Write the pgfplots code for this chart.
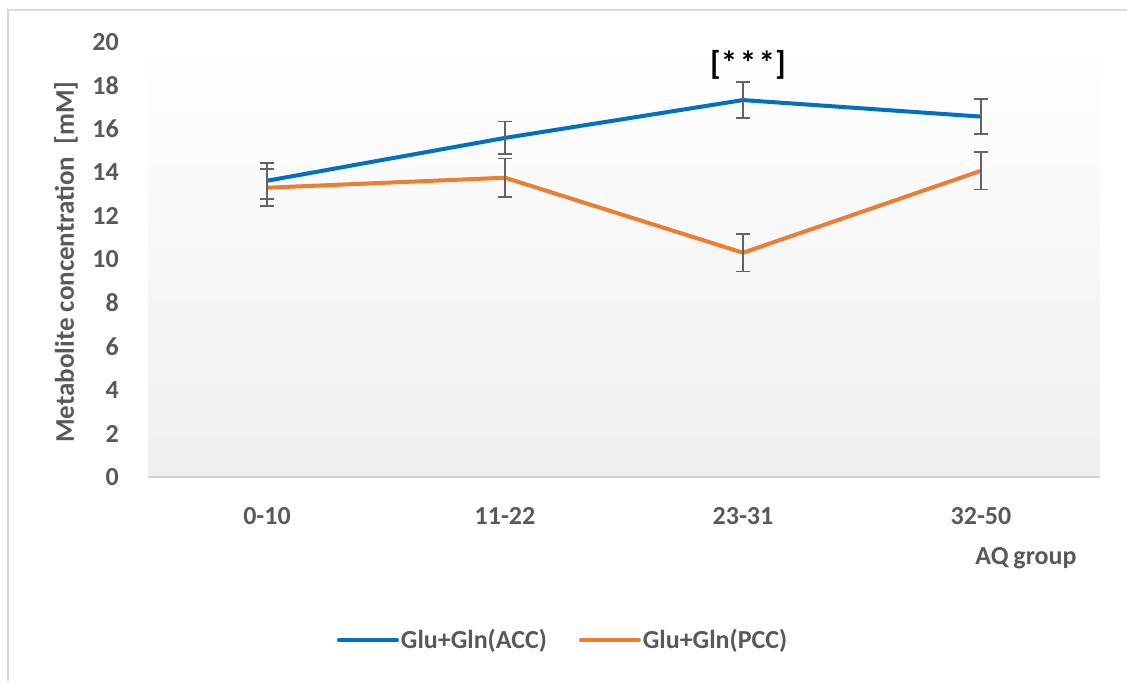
\documentclass[border=0pt]{standalone}
\usepackage{pgfplots}
\pgfplotsset{compat=1.18}
\usepackage{fontspec}
\setmainfont{Carlito}
\definecolor{txt}{HTML}{595959}
\definecolor{accblue}{HTML}{0070C0}
\definecolor{pccorange}{HTML}{ED7D31}
\definecolor{errgray}{HTML}{636363}
\begin{document}
\begin{tikzpicture}[x=1pt,y=1pt]
\path[use as bounding box] (-148,-203) rectangle (979,477);
\draw[black!15, line width=2pt] (-140,-210) -- (-140,467) -- (985,467);
\begin{axis}[
  at={(0,0)}, anchor=south west,
  scale only axis, width=952pt, height=435pt,
  xmin=-0.5, xmax=3.5, ymin=0, ymax=20,
  ytick={0,2,...,20}, xtick={0,1,2,3},
  xticklabels={0-10,11-22,23-31,32-50},
  /pgf/number format/assume math mode=true,
  axis line style={draw=none},
  major tick length=0pt, tick style={draw=none},
  axis background/.style={shade, top color=white, bottom color={rgb,255:red,239;green,239;blue,239}},
  ticklabel style={font=\bfseries\fontsize{26}{26}\selectfont, text=txt, inner sep=0pt},
  yticklabel style={anchor=east, xshift=-29pt},
  xticklabel style={anchor=north, yshift=-30pt},
  legend style={at={(0.436,-0.3747)}, anchor=center, draw=none, fill=none,
    legend columns=2, font=\bfseries\fontsize{26}{26}\selectfont, text=txt,
    /tikz/every even column/.append style={column sep=30pt}},
  legend image code/.code={\draw[#1, line cap=round] (0pt,0pt) -- (58pt,0pt);},
  clip=false,
]
\draw[black!18, line width=2pt] (rel axis cs:0,0) -- (rel axis cs:1,0);
\addplot[accblue, line width=4pt, line join=round,
  error bars/.cd, y dir=both, y explicit, error mark=-,
  error mark options={rotate=90, errgray, line width=1.6pt, mark size=7pt},
  error bar style={errgray, line width=1.6pt}]
  table[x=x, y=y, y error=e] {
x y e
0 13.62 0.83
1 15.59 0.75
2 17.33 0.82
3 16.57 0.81
};
\addlegendentry{Glu+Gln(ACC)}
\addplot[pccorange, line width=4pt, line join=round,
  error bars/.cd, y dir=both, y explicit, error mark=-,
  error mark options={rotate=90, errgray, line width=1.6pt, mark size=7pt},
  error bar style={errgray, line width=1.6pt}]
  table[x=x, y=y, y error=e] {
x y e
0 13.30 0.85
1 13.76 0.88
2 10.31 0.86
3 14.08 0.86
};
\addlegendentry{Glu+Gln(PCC)}
\node[font=\bfseries\fontsize{33}{33}\selectfont, text=black, xshift=5pt] at (axis cs:2,18.95) {[*\kern2.5pt*\kern2.5pt*]};
\end{axis}
\node[font=\bfseries\fontsize{26}{26}\selectfont, text=txt] at (878,-81) {AQ\kern-1pt\ group};
\node[font=\bfseries\fontsize{27}{27}\selectfont, text=txt, rotate=90] at (-82,215) {Metabolite concentration\ \ [mM]};
\end{tikzpicture}
\end{document}
